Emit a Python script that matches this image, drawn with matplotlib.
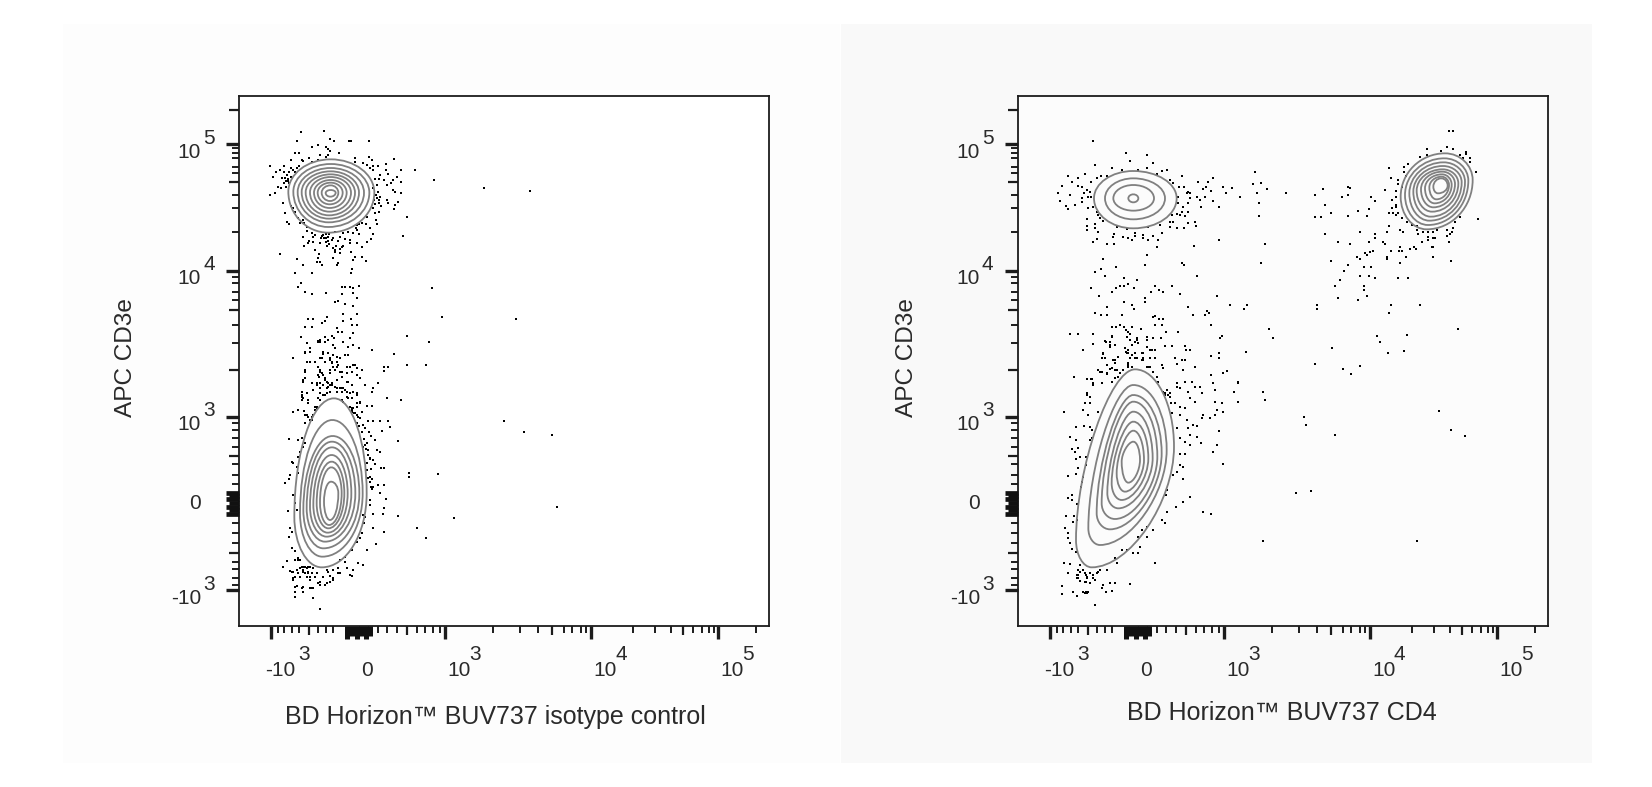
import numpy as np
import matplotlib
matplotlib.use("Agg")
import matplotlib.pyplot as plt
from matplotlib.path import Path
from matplotlib.patches import PathPatch, Rectangle
from matplotlib.lines import TICKDOWN, TICKLEFT

plt.rcParams['font.family'] = ['Liberation Sans', 'DejaVu Sans']

# Both axes are in display channels of the biexponential scale (0-1590).
CH_MAX = 1590
x_major = [95, 618, 1056, 1438]
x_major_labels = [('-10', '3'), ('10', '3'), ('10', '4'), ('10', '5')]
x_zero = 358
x_medium = [211, 505, 940, 1332]
x_minor = [118, 135, 158, 181, 238, 260, 283, 418, 443, 473, 533, 558, 583, 603,
           761, 842, 896, 974, 1000, 1025, 1041, 1181, 1249, 1295, 1363, 1389, 1410, 1425, 1550]
x_zero_blob = [325, 338, 353, 366, 380, 393]
y_major = [108, 628, 1065, 1445]
y_major_labels = [('-10', '3'), ('10', '3'), ('10', '4'), ('10', '5')]
y_zero = 368
y_medium = [220, 510, 768, 948, 1333, 1548]
y_minor = [123, 143, 170, 193, 250, 278, 308, 426, 453, 486, 536, 563, 588, 608, 848, 903,
           978, 1003, 1028, 1048, 1183, 1253, 1293, 1358, 1376, 1403, 1420, 1433]
y_zero_blob = [336, 348, 358, 368, 380, 390, 400]

left_xlabel = 'BD Horizon\u2122 BUV737 isotype control'
right_xlabel = 'BD Horizon\u2122 BUV737 CD4'
ylabel = 'APC CD3e'

# Contour rings: extreme points (top, right, bottom, left) of every contour
a_top_x = [275] * 10
a_top_y = [1400, 1386, 1374, 1364, 1355, 1347, 1338, 1330, 1322, 1308]
a_right_x = [406, 391, 375, 360, 348, 336, 323, 311, 298, 290]
a_right_y = [1300] * 10
a_bot_x = [268, 268, 269, 270, 270, 271, 272, 272, 273, 274]
a_bot_y = [1180, 1197, 1211, 1222, 1232, 1243, 1254, 1265, 1275, 1288]
a_left_x = [148, 163, 176, 188, 200, 213, 225, 236, 248, 260]
a_left_y = [1303, 1303, 1302, 1302, 1301, 1301, 1300, 1300, 1300, 1299]

b_top_x = [285, 280, 281, 279, 279, 278, 278, 277, 276]
b_top_y = [683, 618, 570, 553, 536, 513, 493, 476, 433]
b_right_x = [383, 371, 361, 349, 337, 326, 316, 308, 298]
b_right_y = [398] * 9
b_bot_x = [248, 250, 253, 258, 263, 266, 268, 270, 273]
b_bot_y = [176, 208, 233, 253, 268, 280, 293, 303, 318]
b_left_x = [166, 183, 193, 203, 213, 223, 233, 243, 255]
b_left_y = [328, 338, 348, 353, 358, 363, 368, 370, 373]

c_top_x = [346, 346, 346, 346]
c_top_y = [1365, 1343, 1323, 1295]
c_right_x = [476, 441, 408, 361]
c_right_y = [1283, 1283, 1283, 1283]
c_bot_x = [346, 346, 346, 346]
c_bot_y = [1193, 1220, 1246, 1271]
c_left_x = [228, 261, 286, 331]
c_left_y = [1283, 1283, 1283, 1283]

d_top_x = [351, 346, 346, 346, 346, 346, 346, 346]
d_top_y = [770, 723, 693, 673, 643, 613, 586, 553]
d_right_x = [468, 446, 431, 418, 404, 391, 378, 366]
d_right_y = [538, 528, 518, 508, 503, 503, 498, 498]
d_bot_x = [221, 246, 276, 291, 301, 311, 321, 331]
d_bot_y = [176, 243, 290, 321, 353, 378, 403, 430]
d_left_x = [174, 211, 236, 251, 268, 281, 296, 311]
d_left_y = [258, 293, 338, 368, 398, 428, 458, 493]

e_top_x = [1281, 1279, 1277, 1275, 1274, 1273, 1272, 1271, 1270]
e_top_y = [1418, 1403, 1391, 1380, 1370, 1363, 1355, 1348, 1343]
e_right_x = [1364, 1351, 1341, 1331, 1321, 1311, 1301, 1293, 1289]
e_right_y = [1338, 1336, 1333, 1331, 1328, 1326, 1324, 1323, 1321]
e_bot_x = [1226, 1230, 1234, 1238, 1242, 1246, 1250, 1255, 1260]
e_bot_y = [1190, 1203, 1216, 1228, 1243, 1256, 1268, 1280, 1298]
e_left_x = [1148, 1161, 1174, 1186, 1196, 1209, 1221, 1234, 1246]
e_left_y = [1288, 1293, 1298, 1303, 1306, 1310, 1313, 1316, 1318]

# Events (x channel, y channel)
left_upper_events = [
(186,1481),(255,1486),(174,1455),(274,1461),(286,1455),(330,1455),(336,1455),(391,1455),(236,1442),(218,1437),
(261,1437),(268,1430),(274,1424),(168,1418),(181,1418),(299,1418),(242,1412),(155,1398),(190,1398),(193,1395),
(211,1403),(218,1393),(236,1398),(261,1406),(268,1412),(348,1403),(391,1406),(398,1398),(466,1400),(348,1393),
(373,1388),(385,1383),(403,1380),(416,1380),(441,1387),(93,1381),(136,1381),(155,1375),(174,1375),(179,1380),
(123,1368),(161,1368),(485,1368),(528,1368),(441,1368),(393,1373),(403,1368),(110,1363),(136,1362),(149,1362),
(168,1363),(423,1353),(448,1356),(475,1348),(485,1333),(584,1338),(103,1348),(138,1343),(146,1340),(155,1346),
(148,1335),(408,1342),(421,1341),(435,1338),(463,1338),(455,1328),(443,1323),(118,1316),(125,1313),(141,1318),
(413,1323),(403,1313),(461,1308),(468,1303),(485,1300),(93,1294),(108,1300),(418,1303),(411,1293),(423,1288),
(405,1278),(420,1278),(443,1278),(448,1270),(478,1273),(468,1263),(466,1251),(131,1270),(408,1266),(403,1253),
(155,1260),(161,1253),(168,1243),(408,1238),(138,1238),(421,1243),(503,1226),(143,1213),(178,1223),(191,1218),
(151,1206),(383,1228),(411,1218),(415,1206),(380,1206),(361,1206),(355,1203),(368,1208),(196,1208),(205,1198),
(183,1208),(393,1193),(203,1186),(218,1180),(228,1173),(253,1173),(261,1176),(268,1168),(288,1183),(311,1180),
(328,1183),(343,1180),(361,1175),(403,1176),(491,1170),(193,1168),(223,1168),(283,1163),(303,1166),(318,1160),
(333,1158),(395,1160),(383,1153),(211,1156),(223,1151),(243,1148),(261,1153),(268,1156),(278,1158),(298,1156),
(333,1148),(353,1150),(195,1140),(208,1148),(263,1140),(271,1145),(291,1140),(313,1141),(368,1138),(283,1133),
(228,1128),(288,1128),(303,1130),(308,1138),(124,1115),(241,1116),(288,1121),(303,1118),(336,1121),(174,1101),
(236,1103),(243,1093),(281,1103),(348,1108),(368,1108),(233,1093),(250,1083),(193,1083),(298,1088),(293,1083),
(343,1098),(380,1095),(338,1071),(168,1059),(218,1059),(336,1058),(185,1028),(308,1018),(318,1018),(333,1018),
(361,1020),(343,1013),(578,1015),(178,1016),(198,1003),(218,996),(260,998),(308,996),(341,998),(353,985),
(288,971),(298,975),(318,966),(343,960),(208,921),(223,921),(263,926),(258,916),(311,935),(353,935),
(248,910),(311,916),(336,921),(610,926),(198,898),(218,896),(298,883),(308,883),(338,903),(355,903),
(293,893),(278,870),(341,878),(503,871),(185,866),(258,868),(238,856),(243,853),(268,858),(285,863),
(333,863),(313,853),(571,853),(205,848),(283,843),(288,833),(328,838),(343,843),(361,835),(398,828),
(213,835),(198,818),(466,815),(163,805),(253,816),(268,818),(273,805),(243,803),(293,808),(303,803),
(318,813),(328,813),(734,1315),(873,1306),(832,920),
(130,1345),(140,1335),(145,1352),(135,1330),(150,1330),(255,1165),(250,1170),(262,1165),(270,1175),(245,1165),
(350,1195),(355,1188),(415,1285),(420,1268),(425,1260),
]
left_lower_events = [
(203,793),(228,793),(278,793),(293,793),(348,783),(368,768),(503,783),(560,783),(448,778),(435,776),
(435,765),(198,763),(193,733),(243,763),(253,753),(273,758),(288,768),(303,763),(323,778),(338,763),
(353,753),(241,748),(258,738),(268,728),(278,723),(293,738),(308,748),(323,733),(293,713),(308,713),
(318,708),(363,743),(378,723),(418,728),(403,713),(398,703),(188,703),(203,698),(223,708),(233,728),
(243,713),(263,713),(273,703),(258,693),(243,678),(333,698),(353,698),(323,688),(338,683),(443,685),
(485,678),(193,683),(208,678),(188,693),(233,658),(228,648),(363,673),(353,668),(343,653),(338,643),
(383,660),(398,660),(163,643),(178,648),(195,646),(218,628),(213,618),(203,633),(353,633),(363,623),
(373,603),(378,593),(388,616),(403,616),(423,616),(448,616),(453,598),(428,586),(198,608),(391,583),
(395,570),(150,560),(178,558),(188,563),(198,548),(193,536),(408,558),(478,555),(383,548),(373,536),
(388,528),(413,528),(423,523),(183,523),(178,508),(158,493),(163,488),(393,503),(403,498),(408,486),
(383,488),(425,473),(435,473),(173,478),(153,453),(178,458),(393,448),(383,468),(138,430),(151,440),
(393,433),(403,418),(418,423),(435,423),(510,460),(510,448),(596,455),(163,393),(393,378),(423,398),
(441,381),(168,368),(393,363),(148,346),(173,348),(435,353),(403,336),(431,336),(478,331),(373,333),
(378,328),(646,325),(375,308),(403,293),(435,281),(535,293),(153,293),(158,283),(151,268),(368,278),
(363,263),(560,263),(410,245),(353,253),(158,233),(168,226),(383,228),(338,228),(178,198),(143,195),
(168,198),(131,176),(358,188),(373,183),(318,208),(318,193),(303,198),(183,173),(193,178),(203,173),
(213,178),(193,163),(208,158),(158,163),(233,158),(263,168),(283,168),(298,158),(338,150),(163,143),
(183,148),(213,148),(253,148),(273,150),(168,118),(193,118),(218,113),(243,133),(263,128),(283,138),
(168,103),(193,103),(168,88),(223,83),(243,51),(794,614),(854,582),(939,572),(955,358),
(243,768),(248,758),(238,753),(258,743),(263,733),(273,723),(268,718),(278,728),(288,718),(303,713),
(313,713),(308,703),(293,703),(253,723),(243,728),(233,723),(218,728),(273,798),(278,788),(283,778),
(293,778),(273,768),(258,793),(248,803),(238,778),(298,783),(308,763),(323,758),(328,733),(338,723),
(343,703),(353,693),(323,703),(328,683),(308,678),(313,673),(228,658),(233,653),(263,698),(253,693),
(238,683),(243,698),(353,658),(338,648),(348,638),(358,628),(333,658),(223,633),(218,618),(208,628),
(198,633),(333,778),(343,783),(353,773),(268,818),(283,813),(253,823),(238,853),(243,858),(258,853),
(198,823),(213,823),(213,793),(198,768),(193,738),(198,743),(203,698),(188,703),(188,688),(188,678),
(208,668),(363,668),(368,643),
(178,203),(183,198),(188,178),(198,178),(193,168),(208,178),(223,173),(208,163),(198,158),(178,158),
(173,168),(163,163),(153,165),(168,148),(163,138),(203,148),(218,158),(228,148),(213,138),(238,128),
(243,123),(258,123),(273,133),(283,143),(268,163),(298,173),(303,158),(173,121),(188,113),(213,115),
(223,113),(168,101),(168,88),(193,101),(223,83),(333,153),(323,173),(343,168),
(338,653),(353,608),(368,583),(378,543),(388,513),(388,443),(395,418),(345,640),(360,600),(375,560),
(380,530),(392,500),(395,470),(398,440),(400,410),
]
right_upper_events = [
(225,1456),(324,1418),(386,1412),(337,1394),(404,1388),(231,1382),(281,1375),(312,1368),(361,1368),(386,1375),
(431,1365),(448,1368),(151,1350),(181,1344),(200,1356),(249,1350),(237,1344),(266,1350),(416,1356),(492,1350),
(163,1332),(219,1332),(133,1320),(181,1320),(191,1318),(456,1338),(464,1328),(541,1332),(584,1344),(571,1332),
(563,1318),(616,1318),(641,1313),(554,1312),(484,1318),(498,1316),(579,1306),(623,1300),(119,1300),(157,1293),
(206,1308),(216,1303),(198,1298),(211,1288),(191,1283),(218,1286),(511,1303),(516,1300),(506,1298),(126,1275),
(191,1273),(481,1288),(516,1283),(536,1286),(546,1278),(561,1286),(586,1275),(666,1288),(171,1263),(144,1261),
(151,1251),(211,1253),(226,1258),(481,1268),(496,1258),(511,1268),(549,1256),(604,1256),(491,1243),(511,1243),
(236,1243),(241,1233),(461,1233),(476,1236),(486,1233),(501,1230),(206,1220),(246,1223),(256,1216),(456,1213),
(466,1213),(511,1208),(531,1213),(206,1201),(231,1205),(534,1200),(206,1188),(231,1193),(241,1181),(296,1196),
(326,1190),(391,1196),(426,1203),(456,1198),(476,1195),(498,1195),(288,1175),(316,1168),(331,1163),(351,1178),
(351,1171),(376,1173),(406,1171),(431,1178),(286,1168),(238,1161),(341,1158),(376,1163),(391,1158),(421,1158),
(226,1151),(268,1145),(288,1145),(418,1138),(529,1139),(604,1157),(741,1145),(386,1114),(256,1101),(491,1088),
(498,1083),(293,1076),(381,1082),(729,1088),(231,1063),(249,1070),(262,1051),(318,1045),(356,1038),(536,1051),
(293,1014),(306,1020),(318,1021),(331,1026),(219,1014),(281,1002),(349,1014),(411,1020),(399,1002),(424,1008),
(436,1002),(461,1020),(486,996),(244,989),(381,983),(381,971),(318,971),(343,963),(268,958),(349,952),
(231,939),(249,933),(268,933),(312,933),(511,958),(524,933),(561,933),(566,946),(573,940),(598,989),
(635,964),(686,964),(679,952),(411,930),(406,928),(424,920),(436,920),(411,902),(431,902),(579,902),
(293,896),(306,902),(281,896),(319,896),(324,888),(331,883),(341,896),(368,890),(443,883),(479,883),
(156,877),(181,877),(225,877),(281,870),(336,876),(356,863),(386,868),(406,863),(428,863),(611,870),
(606,863),(753,890),(766,865),
(710,1363),(728,1330),(704,1325),(716,1300),(747,1312),(803,1300),(722,1268),(722,1231),
(891,1294),(915,1312),(991,1318),(996,1313),(991,1294),(971,1288),(1058,1288),(1070,1275),(921,1263),(939,1238),
(891,1226),(909,1226),(991,1231),(1021,1244),(1046,1231),(1052,1251),(921,1175),(1027,1182),(959,1151),(996,1145),
(1071,1175),(1071,1163),(1052,1151),(1096,1151),(1102,1145),(1108,1182),(1114,1200),(1016,1108),(1026,1101),(1041,1118),
(1046,1114),(1056,1121),(1064,1126),(1120,1126),(1108,1108),(1108,1101),(1146,1138),(1144,1126),(1151,1126),(1176,1132),
(1188,1138),(1194,1132),(1163,1108),(1145,1089),(940,1095),(989,1082),(977,1064),(1039,1076),(1058,1076),(1027,1051),
(1052,1051),(1070,1045),(1139,1045),(1170,1045),(965,1039),(952,1020),(1039,1020),(1039,1008),(959,983),(1020,977),
(1046,989),(896,964),(896,952),(1120,964),(1114,939),(1207,964),(1076,871),(1319,890),
(1114,1375),(1120,1343),(1102,1307),(1158,1376),(1158,1363),(1170,1387),(1164,1350),(1139,1338),(1139,1325),(1151,1318),
(1133,1306),(1121,1278),(1133,1288),(1133,1263),(1121,1253),(1133,1256),(1114,1238),(1126,1238),(1133,1233),(1139,1238),
(1151,1223),(1166,1213),(1181,1203),(1196,1188),(1146,1188),(1156,1183),(1201,1176),(1216,1183),(1231,1183),(1246,1183),
(1256,1188),(1196,1200),(1286,1188),(1301,1183),(1306,1193),(1296,1176),(1288,1170),(1231,1168),(1246,1163),(1231,1158),
(1213,1151),(1251,1163),(1294,1151),(1241,1138),(1246,1138),(1244,1108),(1300,1095),(1311,1213),(1326,1226),(1381,1220),
(1375,1362),(1356,1393),(1356,1403),(1344,1423),(1344,1416),(1336,1403),(1326,1413),(1306,1430),(1288,1436),(1269,1424),
(1226,1430),(1226,1412),(1207,1406),(1294,1486),(1306,1486),
(1320,892),(1158,825),(1111,819),(975,772),(998,756),(1026,781),(1168,873),(1086,851),(943,835),
]
right_lower_events = [
(226,846),(264,853),(276,843),(351,853),(361,848),(441,840),(461,840),(501,840),(503,828),(516,828),
(194,828),(386,836),(324,823),(331,818),(341,813),(351,818),(356,803),(376,818),(376,798),(401,828),
(411,828),(254,816),(291,798),(266,783),(296,768),(246,763),(266,758),(331,788),(331,778),(386,776),
(396,776),(411,803),(431,783),(436,773),(471,803),(491,798),(501,798),(476,786),(494,768),(531,778),
(579,810),(604,820),(604,803),(684,821),(890,785),(169,746),(206,740),(218,740),(276,770),(281,733),
(446,708),(436,703),(441,693),(456,698),(476,730),(486,713),(476,718),(521,733),(501,733),(531,718),
(546,718),(551,698),(579,753),(586,728),(591,708),(616,760),(628,765),(660,733),(660,728),(648,703),
(735,703),(741,678),(660,672),(511,703),(516,683),(531,673),(206,693),(216,688),(251,728),(226,728),
(201,668),(216,668),(241,643),(196,648),(211,633),(138,642),(458,668),(471,668),(486,658),(486,633),
(461,638),(506,618),(501,653),(556,633),(551,623),(576,623),(591,633),(598,648),(616,643),(591,673),
(611,668),(858,628),(865,603),(526,603),(536,600),(511,593),(476,593),(516,573),(536,566),(549,548),
(486,563),(501,553),(516,543),(486,516),(501,516),(598,542),(586,523),(616,486),(604,586),(175,598),
(198,600),(216,596),(221,588),(221,563),(216,558),(157,566),(174,558),(161,530),(181,533),(171,523),
(186,508),(204,508),(174,500),(204,483),(181,473),(151,450),(174,455),(194,448),(191,433),(189,418),
(486,483),(494,476),(476,463),(466,453),(494,440),(446,408),(443,393),(517,386),(494,373),(474,356),
(834,399),(878,404),(554,343),(579,337),(161,393),(151,383),(161,378),(178,366),(144,331),(168,331),
(178,318),(164,313),(446,343),(431,318),(441,308),(406,288),(386,298),(386,268),(371,288),(361,268),
(366,238),(346,218),(361,218),(141,293),(151,278),(151,263),(156,250),(161,230),(174,223),(735,256),
(326,228),(311,228),(291,203),(296,188),(266,168),(411,188),(139,188),(156,186),(186,183),(181,168),
(151,158),(176,153),(181,143),(186,136),(201,158),(208,148),(204,133),(226,153),(241,163),(231,138),
(216,128),(256,123),(276,128),(291,128),(336,125),(131,120),(131,95),(166,101),(176,90),(196,103),
(211,103),(201,98),(251,113),(264,101),(281,105),(231,63),
(1197,256),(951,573),(1263,645),(1298,588),(1342,569),
(321,833),(331,828),(326,818),(341,813),(336,803),(351,803),(371,818),(376,803),(371,798),(396,828),
(411,828),(396,803),(391,778),(331,783),(341,778),(286,798),(291,788),(301,808),(281,773),(291,768),
(266,783),(261,803),(251,803),(256,818),(241,768),(251,761),(266,755),(291,743),(301,748),(306,758),
(316,768),(356,858),(361,848),(336,858),(326,868),(341,843),(281,868),(276,853),(261,855),(276,838),
(291,843),(386,858),(224,846),(206,741),(221,741),(226,723),(251,728),(206,698),(406,763),(416,748),(421,733),
(204,153),(208,143),(201,133),(216,158),(226,143),(236,158),(176,143),(181,153),(186,163),(194,168),
(246,168),(204,103),(208,98),(451,693),(441,698),(456,688),
]

k_ellipse = (0.55, 0.55, 0.55, 0.55)
k_tilted = (0.55, 0.46, 0.55, 0.42)


def ring_path(tx, ty, rx, ry, bx, by, lx, ly, k):
    ktr, kbr, kbl, ktl = k
    verts = [(tx, ty),
             (tx + ktr * (rx - tx), ty), (rx, ry + ktr * (ty - ry)), (rx, ry),
             (rx, ry - kbr * (ry - by)), (bx + kbr * (rx - bx), by), (bx, by),
             (bx - kbl * (bx - lx), by), (lx, ly - kbl * (ly - by)), (lx, ly),
             (lx, ly + ktl * (ty - ly)), (tx - ktl * (tx - lx), ty), (tx, ty)]
    codes = [Path.MOVETO] + [Path.CURVE4] * 12
    return Path(verts, codes)


def draw_rings(ax, tx, ty, rx, ry, bx, by, lx, ly, k):
    for ring in zip(tx, ty, rx, ry, bx, by, lx, ly):
        ax.add_patch(PathPatch(ring_path(*ring, k), fc='none', ec='#808080', lw=1.3, zorder=3))


def draw_events(ax, events):
    pts = np.array(events)
    ax.scatter(pts[:, 0], pts[:, 1], s=4.0, marker='s', c='#000000', linewidths=0, zorder=2)


def setup_axes(ax, face, xlabel, xlabel_dx, xlabel_dy, ylabel_dx):
    ax.set_facecolor(face)
    ax.set_xlim(0, CH_MAX)
    ax.set_ylim(0, CH_MAX)
    for s in ax.spines.values():
        s.set_linewidth(1.3)
        s.set_color('#1c1c1c')
    ax.set_xticks(x_major)
    ax.set_xticks(x_minor, minor=True)
    ax.set_yticks(y_major)
    ax.set_yticks(y_minor, minor=True)
    ax.tick_params(axis='both', which='major', length=9.5, width=2.4, color='#1c1c1c',
                   labelbottom=False, labelleft=False)
    ax.tick_params(axis='both', which='minor', length=5, width=1.4, color='#1c1c1c')
    ax.plot(x_medium, [0] * len(x_medium), ls='none', marker=TICKDOWN, ms=6.5, mew=1.6, c='#1c1c1c',
            transform=ax.get_xaxis_transform(), clip_on=False, zorder=4)
    ax.plot([0] * len(y_medium), y_medium, ls='none', marker=TICKLEFT, ms=7.5, mew=1.6, c='#1c1c1c',
            transform=ax.get_yaxis_transform(), clip_on=False, zorder=4)
    for i, v in enumerate(x_zero_blob):
        ax.plot([v], [0], ls='none', marker=TICKDOWN, ms=9.5 if i % 2 == 0 else 7, mew=3.6, c='#111111',
                transform=ax.get_xaxis_transform(), clip_on=False, zorder=4)
    for i, v in enumerate(y_zero_blob):
        ax.plot([0], [v], ls='none', marker=TICKLEFT, ms=9.5 if i % 2 == 0 else 7.5, mew=3.4, c='#111111',
                transform=ax.get_yaxis_transform(), clip_on=False, zorder=4)

    fs = 15
    tc = '#2a2a2a'

    def lab(txt, xy, xycoords, dx, dy, ha='center'):
        ax.annotate(txt, xy=xy, xycoords=xycoords, xytext=(dx, dy), textcoords='offset pixels',
                    ha=ha, va='center', fontsize=fs, color=tc, annotation_clip=False)
    xc = ('data', 'axes fraction')
    yc = ('axes fraction', 'data')
    for v, (b, e) in zip(x_major, x_major_labels):
        neg = b.startswith('-')
        lab(b, (v, 0), xc, 25 if neg else 2, -44, ha='right' if neg else 'left')
        lab(e, (v, 0), xc, 28 if neg else 24, -29, ha='left')
    lab('0', (x_zero, 0), xc, 9, -44)
    for v, (b, e) in zip(y_major, y_major_labels):
        lab(b, (0, v), yc, -38, -8, ha='right')
        lab(e, (0, v), yc, -36, 6, ha='left')
    lab('0', (0, y_zero), yc, -44, 0)
    ax.annotate(ylabel, xy=(0, 0.5), xycoords='axes fraction', xytext=(ylabel_dx, 3), textcoords='offset pixels',
                rotation=90, ha='center', va='center', fontsize=17.6, color=tc, annotation_clip=False)
    ax.annotate(xlabel, xy=(0.5, 0), xycoords='axes fraction', xytext=(xlabel_dx, xlabel_dy),
                textcoords='offset pixels',
                ha='center', va='center', fontsize=18, color=tc, annotation_clip=False)


W, H = 1652, 787
fig = plt.figure(figsize=(W / 100, H / 100), dpi=100, facecolor='white')
fig.add_artist(Rectangle((63 / W, 1 - 763 / H), (840 - 63) / W, (763 - 24) / H, transform=fig.transFigure,
                         fc='#FDFDFD', ec='none', zorder=-5))
fig.add_artist(Rectangle((841 / W, 1 - 763 / H), (1592 - 841) / W, (763 - 24) / H, transform=fig.transFigure,
                         fc='#F9F9F9', ec='none', zorder=-4))

ax1 = fig.add_axes([239 / W, 1 - 626 / H, 530 / W, 530 / H])
ax2 = fig.add_axes([1018 / W, 1 - 626 / H, 530 / W, 530 / H])
setup_axes(ax1, '#FFFFFF', left_xlabel, -9, -91, -113)
setup_axes(ax2, '#FCFCFC', right_xlabel, -1, -87, -111)

draw_events(ax1, left_upper_events)
draw_events(ax1, left_lower_events)
draw_events(ax2, right_upper_events)
draw_events(ax2, right_lower_events)

draw_rings(ax1, a_top_x, a_top_y, a_right_x, a_right_y, a_bot_x, a_bot_y, a_left_x, a_left_y, k_ellipse)
draw_rings(ax1, b_top_x, b_top_y, b_right_x, b_right_y, b_bot_x, b_bot_y, b_left_x, b_left_y, k_ellipse)
draw_rings(ax2, c_top_x, c_top_y, c_right_x, c_right_y, c_bot_x, c_bot_y, c_left_x, c_left_y, k_ellipse)
draw_rings(ax2, d_top_x, d_top_y, d_right_x, d_right_y, d_bot_x, d_bot_y, d_left_x, d_left_y, k_tilted)
draw_rings(ax2, e_top_x, e_top_y, e_right_x, e_right_y, e_bot_x, e_bot_y, e_left_x, e_left_y, k_ellipse)

fig.savefig('out.png', dpi=100)
